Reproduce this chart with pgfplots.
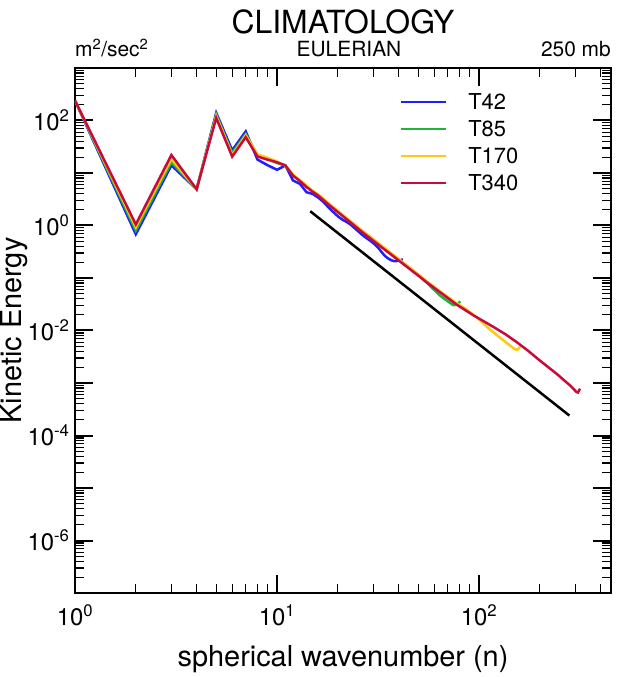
\documentclass[border=0pt]{standalone}
\usepackage{fontspec}
\setmainfont{TeX Gyre Heros}
\usepackage{pgfplots}
\pgfplotsset{compat=1.18}
\definecolor{cblue}{RGB}{30,30,255}
\definecolor{cgreen}{RGB}{30,180,60}
\definecolor{cyellow}{RGB}{255,200,20}
\definecolor{cred}{RGB}{200,10,60}
\begin{document}
\begin{tikzpicture}[x=1bp,y=1bp]
\useasboundingbox (-75,-84) rectangle (542,593);
\begin{axis}[
  at={(0,0)}, anchor=south west,
  scale only axis, width=536bp, height=525bp,
  xmode=log, ymode=log,
  xmin=1, xmax=450, ymin=1e-7, ymax=1e3,
  xtick={1,10,100},
  xticklabels={10\textsuperscript{0},10\textsuperscript{1},10\textsuperscript{2}},
  minor xtick={2,3,4,5,6,7,8,9,20,30,40,50,60,70,80,90,200,300,400},
  ytick={1e-7,1e-6,1e-5,1e-4,1e-3,1e-2,1e-1,1,10,100,1000},
  yticklabels={,10\textsuperscript{-6},,10\textsuperscript{-4},,10\textsuperscript{-2},,10\textsuperscript{0},,10\textsuperscript{2},},
  minor ytick={2e-7,3e-7,4e-7,5e-7,6e-7,7e-7,8e-7,9e-7,
    2e-6,3e-6,4e-6,5e-6,6e-6,7e-6,8e-6,9e-6,
    2e-5,3e-5,4e-5,5e-5,6e-5,7e-5,8e-5,9e-5,
    2e-4,3e-4,4e-4,5e-4,6e-4,7e-4,8e-4,9e-4,
    2e-3,3e-3,4e-3,5e-3,6e-3,7e-3,8e-3,9e-3,
    2e-2,3e-2,4e-2,5e-2,6e-2,7e-2,8e-2,9e-2,
    0.2,0.3,0.4,0.5,0.6,0.7,0.8,0.9,
    2,3,4,5,6,7,8,9,20,30,40,50,60,70,80,90,
    200,300,400,500,600,700,800,900},
  tick align=inside,
  major tick length=18bp, minor tick length=9bp,
  every major tick/.append style={line width=2bp, black},
  every minor tick/.append style={line width=1.2bp, black},
  axis line style={line width=2.2bp},
  ticklabel style={font=\fontsize{24}{28}\selectfont},
  xticklabel style={yshift=-8bp},
  yticklabel style={xshift=-2bp},
  xlabel={spherical wavenumber (n)},
  ylabel={Kinetic Energy},
  xlabel style={font=\fontsize{29}{34}\selectfont, at={(axis description cs:0.5,-0.1404)}, anchor=base},
  ylabel style={font=\fontsize{29}{34}\selectfont, at={(axis description cs:-0.1135,0.5)}, anchor=center},
  legend style={at={(axis description cs:0.601,0.957)}, anchor=north west, draw=none, fill=none,
    font=\fontsize{22}{26}\selectfont, row sep=7.5bp, column sep=20bp,
    nodes={inner sep=1bp}},
  legend cell align=left,
  legend image code/.code={\draw[#1, line width=2bp] (0bp,0bp) -- (45bp,0bp);},
]
\addplot[cblue, line width=2.5bp] coordinates {(1,240)(2,0.68)(3,14)(4,4.9)(5,140)(6,27)(7,62)(8,18)(9,14)(10,11.5)(11,13.9)(12,7.2)(13,6.2)(14,4.3)(15,4.0)(16,3.4)(17,2.8)(18,2.2)(19,1.8)(20,1.5)(21,1.3)(22,1.18)(23,1.06)(24,0.92)(25,0.8)(26,0.7)(27,0.62)(28,0.56)(29,0.51)(30,0.46)(31,0.41)(32,0.36)(33,0.31)(34,0.27)(35,0.245)(36,0.228)(37,0.216)(38,0.21)(39,0.21)(40,0.214)(41,0.22)(42,0.226)};
\addlegendentry{T42}
\addplot[cgreen, line width=2.5bp] coordinates {(1,240)(2,0.8)(3,16)(4,4.9)(5,130)(6,24)(7,55)(8,22)(9,19)(10,15.5)(11,13.9)(12,9.1)(13,7.1)(14,5.5)(15,4.5)(16,3.8)(18,2.6)(20,1.85)(23,1.2)(26.5,0.77)(30,0.53)(36,0.305)(40,0.222)(45,0.157)(50,0.115)(55,0.082)(64,0.0465)(70,0.036)(74.5,0.0305)(78,0.031)(80.6,0.036)};
\addlegendentry{T85}
\addplot[cyellow, line width=2.5bp] coordinates {(1,240)(2,0.93)(3,18.5)(4,4.9)(5,122)(6,22)(7,52)(8,22.5)(9,19.5)(10,16.5)(11,13.9)(12,9.3)(13,7.3)(14,5.7)(15,4.6)(16,3.9)(18,2.65)(20,1.9)(23,1.22)(26.5,0.79)(30,0.545)(36,0.315)(40,0.23)(45,0.162)(50,0.118)(55,0.087)(64,0.056)(77.6,0.033)(87,0.025)(100,0.0163)(113,0.0105)(130,0.0068)(150.4,0.0044)(155,0.0043)(159.6,0.0049)};
\addlegendentry{T170}
\addplot[cred, line width=2.5bp] coordinates {(1,240)(2,1.05)(3,22)(4,4.9)(5,112)(6,20.5)(7,48)(8,20.6)(9,17.9)(10,16)(11,13.9)(12,8.9)(13,7.0)(14,5.4)(15,4.4)(16,3.7)(18,2.5)(20,1.8)(23,1.16)(26.5,0.74)(30,0.51)(36,0.296)(40,0.216)(45,0.152)(50,0.111)(55,0.083)(64,0.0537)(77.6,0.031)(93.7,0.0195)(117.8,0.0117)(135,0.0085)(153.7,0.006)(175,0.0041)(200,0.00268)(242,0.0015)(282,0.0009)(304,0.00067)(309,0.00066)(316,0.00078)};
\addlegendentry{T340}
\addplot[black, line width=2.5bp, forget plot] coordinates {(14.6,1.87)(280,2.4e-4)};
\end{axis}
\node[anchor=base, inner sep=0pt, font=\fontsize{32}{36}\selectfont] at (268,559) {CLIMATOLOGY};
\node[anchor=base, inner sep=0pt, font=\fontsize{21}{24}\selectfont] at (274,536) {EULERIAN};
\node[anchor=base west, inner sep=0pt, font=\fontsize{21}{24}\selectfont] at (0,536) {m\textsuperscript{2}/sec\textsuperscript{2}};
\node[anchor=base east, inner sep=0pt, font=\fontsize{21}{24}\selectfont] at (536,536) {250 mb};
\end{tikzpicture}
\end{document}
